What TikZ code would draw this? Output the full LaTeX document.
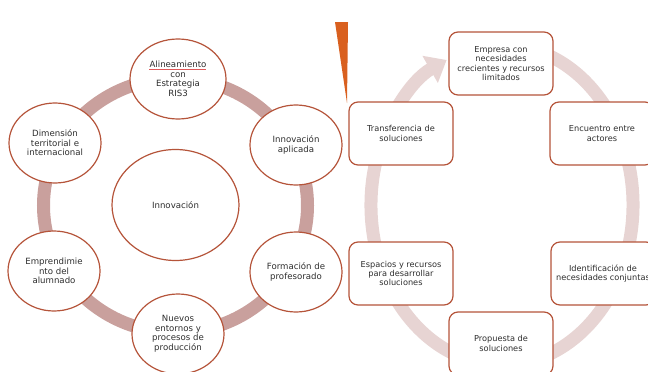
\documentclass[tikz,border=0pt]{standalone}
\usepackage{fontspec}
\setmainfont{DejaVu Sans}
\usetikzlibrary{shapes.geometric,arrows.meta}
\definecolor{ringL}{HTML}{C9A09D}
\definecolor{ringR}{HTML}{E7D4D3}
\definecolor{rust}{HTML}{B5543A}
\definecolor{txt}{HTML}{2E2E2E}
\definecolor{wedge}{HTML}{D9601F}
\definecolor{spell}{HTML}{E05A5A}
\begin{document}
\begin{tikzpicture}[x=1pt,y=-1pt,
  circ/.style={ellipse,draw=rust,line width=1.2pt,fill=white,minimum width=92pt,minimum height=80pt,inner sep=0pt,align=center,font=\fontsize{8.6}{9.5}\selectfont,text=txt},
  stepbox/.style={rectangle,rounded corners=9pt,draw=rust,line width=1.2pt,fill=white,minimum width=104pt,minimum height=63pt,inner sep=0pt,align=center,font=\fontsize{8.2}{9.4}\selectfont,text=txt},
  ringleft/.style={draw=ringL,line width=13pt},
  ringright/.style={draw=ringR,line width=13pt}]
\useasboundingbox (0,0) rectangle (648,372);
\clip (0,0) rectangle (648,372);
% left ring
\coordinate (lc) at (175.5,205.5);
\draw[ringleft] (lc) ellipse [x radius=132pt, y radius=127pt];
% right ring with arrow
\coordinate (rc) at (502,205);
\draw[ringright,-{Triangle[width=30pt,length=19pt]}] ([shift={(75:131pt and 160pt)}]rc) arc[start angle=75,end angle=-245,x radius=131pt,y radius=160pt];
% orange wedge
\fill[wedge] (335,22) -- (348,22) -- (347,103) -- cycle;
% left nodes
\node[circ,minimum width=127pt,minimum height=111pt] (inn) at (175.5,205) {Innovación};
\node[circ,minimum width=96pt] (ali) at (178,79) {Alineamiento\\con\\Estrategia\\RIS3};
\node[circ] (apl) at (296,145) {Innovación\\aplicada};
\node[circ] (for) at (296,272) {Formación de\\profesorado};
\node[circ] (nue) at (178,334) {Nuevos\\entornos y\\procesos de\\producción};
\node[circ] (emp) at (54,271) {Emprendimie\\nto del\\alumnado};
\node[circ] (dim) at (55,143) {Dimensión\\territorial e\\internacional};
\draw[spell,line width=0.6pt] ([shift={(-29pt,10pt)}]ali.center) -- ([shift={(28pt,10pt)}]ali.center);
% right nodes
\node[stepbox] (empr) at (501,63.5) {Empresa con\\necesidades\\crecientes y recursos\\limitados};
\node[stepbox] (tra) at (401,133.5) {Transferencia de\\soluciones};
\node[stepbox] (enc) at (602,133.5) {Encuentro entre\\actores};
\node[stepbox] (esp) at (401,273.5) {Espacios y recursos\\para desarrollar\\soluciones};
\node[stepbox] (ide) at (603,273.5) {Identificación de\\necesidades conjuntas};
\node[stepbox] (pro) at (501,343.5) {Propuesta de\\soluciones};
\end{tikzpicture}
\end{document}
